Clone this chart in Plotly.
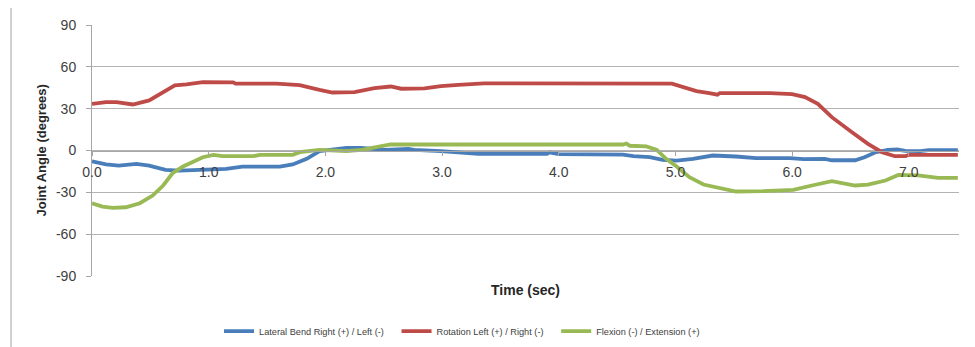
import plotly.graph_objects as go

# ---- data ----
lat_t = [0.00, 0.12, 0.23, 0.38, 0.49, 0.63, 0.75, 1.15, 1.29, 1.61, 1.72, 1.84, 1.95, 2.06, 2.18,
         2.31, 2.51, 2.71, 2.76, 2.99, 3.31, 3.90, 3.92, 4.00, 4.55, 4.64, 4.78, 4.89, 5.01, 5.15,
         5.32, 5.52, 5.69, 5.98, 6.10, 6.28, 6.34, 6.54, 6.62, 6.71, 6.82, 6.90, 6.97, 7.10, 7.17, 7.42]
lat_v = [-7.7, -10.0, -10.8, -9.6, -10.8, -13.9, -14.4, -13.2, -11.5, -11.5, -10.0, -6.0, -0.5, 0.5, 1.9,
         1.9, 0.5, 1.2, 0.5, -0.5, -2.4, -2.4, -1.4, -2.6, -2.9, -4.1, -4.8, -6.7, -7.2, -6.0,
         -3.6, -4.3, -5.5, -5.5, -6.2, -6.0, -7.0, -7.0, -4.8, -1.4, 0.5, 0.7, -0.2, -0.5, 0.2, 0.2]

rot_t = [0.00, 0.12, 0.21, 0.35, 0.49, 0.61, 0.71, 0.81, 0.95, 1.21, 1.23, 1.58, 1.78, 1.95, 2.06,
         2.25, 2.42, 2.56, 2.65, 2.85, 2.99, 3.14, 3.36, 4.97, 5.07, 5.18, 5.29, 5.36, 5.38, 5.81,
         6.00, 6.11, 6.22, 6.34, 6.51, 6.65, 6.77, 6.88, 6.97, 7.00, 7.42]
rot_v = [33.5, 34.7, 34.7, 33.0, 35.9, 41.9, 46.7, 47.4, 49.0, 48.8, 47.9, 47.9, 46.9, 43.5, 41.6,
         41.9, 44.7, 45.9, 44.3, 44.5, 46.2, 47.1, 48.1, 48.0, 45.5, 42.6, 41.2, 40.0, 41.2, 41.2,
         40.5, 38.3, 33.5, 23.9, 13.2, 4.8, -1.2, -4.1, -4.1, -3.1, -3.1]

flx_t = [0.00, 0.09, 0.18, 0.29, 0.41, 0.52, 0.61, 0.69, 0.78, 0.86, 0.95, 1.04, 1.12, 1.38, 1.44,
         1.72, 1.78, 1.95, 2.18, 2.31, 2.45, 2.56, 4.55, 4.58, 4.61, 4.75, 4.84, 4.92, 5.01, 5.12,
         5.24, 5.38, 5.52, 5.75, 6.01, 6.17, 6.34, 6.54, 6.65, 6.80, 6.91, 7.08, 7.25, 7.42]
flx_v = [-37.8, -40.2, -41.1, -40.7, -37.8, -32.3, -25.1, -16.3, -11.5, -8.4, -4.8, -3.1, -4.1, -4.1, -3.1,
         -3.1, -1.2, 0.5, -0.5, 0.5, 2.4, 4.3, 4.3, 5.0, 3.4, 2.9, 0.5, -6.0, -11.5, -19.1,
         -24.4, -26.8, -29.4, -29.2, -28.2, -25.1, -22.0, -25.1, -24.4, -21.5, -17.5, -17.9, -19.6, -19.6]

names = ["Lateral Bend Right (+) / Left (-)", "Rotation Left (+) / Right (-)", "Flexion (-) / Extension (+)"]
colors = ["#4A7EBB", "#BE4B48", "#98B954"]

y_ticks = [90, 60, 30, 0, -30, -60, -90]
y_tick_text = ["90", "60", "30", "0", "-30", "-60", "-90"]
x_ticks = [0, 1, 2, 3, 4, 5, 6, 7]
x_tick_text = ["0.0", "1.0", "2.0", "3.0", "4.0", "5.0", "6.0", "7.0"]

FONT = "Liberation Sans"

fig = go.Figure()
for t, v, n, c in zip([lat_t, rot_t, flx_t], [lat_v, rot_v, flx_v], names, colors):
    fig.add_trace(go.Scatter(x=t, y=v, mode="lines", name=n + "   ",
                             line=dict(color=c, width=3.8)))

fig.update_layout(
    width=975, height=347,
    margin=dict(l=84, r=24, t=17, b=79, autoexpand=False),
    paper_bgcolor="white", plot_bgcolor="white",
    font=dict(family=FONT, color="#404040"),
    showlegend=True,
    legend=dict(orientation="h", x=0.4314, xanchor="center", xref="paper",
                y=-0.22, yanchor="middle",
                font=dict(size=9.2, family=FONT, color="#404040"),
                itemwidth=30, tracegroupgap=0, bgcolor="rgba(0,0,0,0)"),
    xaxis=dict(range=[0, 7.43], anchor="free", position=0.5, automargin=False,
               showgrid=False, zeroline=False,
               showline=True, linecolor="#A6A6A6", linewidth=1,
               ticks="outside", ticklen=4, tickcolor="#A6A6A6",
               tickvals=x_ticks, ticktext=x_tick_text,
               tickfont=dict(size=14, family=FONT, color="#404040"),
               ticklabelstandoff=5),
    yaxis=dict(range=[-90, 90], tickvals=y_ticks, ticktext=y_tick_text, automargin=False,
               showgrid=True, gridcolor="#B3B3B3", gridwidth=1,
               zeroline=False, showline=True, linecolor="#A6A6A6", linewidth=1,
               ticks="outside", ticklen=5, tickcolor="#A6A6A6",
               tickfont=dict(size=14, family=FONT, color="#404040"),
               ticklabelstandoff=7),
)

# y-axis title
fig.add_annotation(text="<b>Joint Angle (degrees)</b>", xref="paper", yref="paper",
                   x=-0.0588, y=0.5, textangle=-90, showarrow=False,
                   xanchor="center", yanchor="middle",
                   font=dict(size=13, family=FONT, color="#262626"))

# x-axis title below the plot
fig.add_annotation(text="<b>Time (sec)</b>", xref="paper", yref="paper", x=0.5, y=-0.056,
                   showarrow=False, xanchor="center", yanchor="middle",
                   font=dict(size=14, family=FONT, color="#262626"))

# chart frame (top and left border of the chart area)
fig.add_shape(type="line", xref="paper", yref="paper", x0=-0.0934, x1=1.05, y0=1.0717, y1=1.0717,
              line=dict(color="#A0A0A0", width=1))
fig.add_shape(type="line", xref="paper", yref="paper", x0=-0.0934, x1=-0.0934, y0=1.0717, y1=-0.4,
              line=dict(color="#A0A0A0", width=1))

fig.write_html("out.html")
